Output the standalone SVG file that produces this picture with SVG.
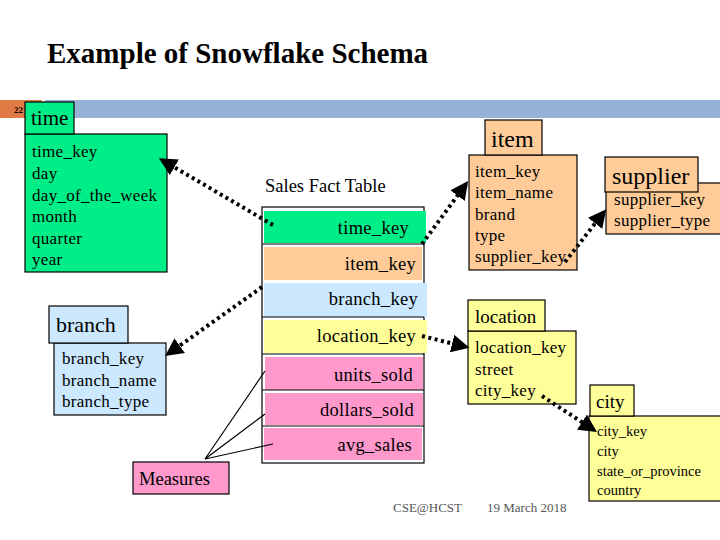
<svg xmlns="http://www.w3.org/2000/svg" width="720" height="540" viewBox="0 0 720 540">
<style>
text{font-family:"Liberation Serif","Times New Roman",serif;fill:#000}
.b{stroke:#000;stroke-width:1.2}
.f{font-size:17px;letter-spacing:0.3px}
.r{text-anchor:end;font-size:18.5px;letter-spacing:0.3px}
.d{fill:none;stroke:#000;stroke-width:4;stroke-dasharray:3 3.5}
.m{stroke:#000;stroke-width:1.2}
.g{fill:#00ee88}.o{fill:#ffcc99}.lb{fill:#cce8ff}.y{fill:#ffff99}.p{fill:#ff99cc}
</style>
<defs><marker id="a" viewBox="0 0 10 10" refX="8" refY="5" markerWidth="4.5" markerHeight="4.5" orient="auto" markerUnits="strokeWidth"><path d="M0,0L10,5L0,10z" fill="#000"/></marker></defs>
<rect width="720" height="540" fill="#fff"/>
<text x="47" y="63" font-size="29" font-weight="bold">Example of Snowflake Schema</text>
<rect x="0" y="100" width="42" height="18" fill="#e07b45"/>
<rect x="45" y="100" width="675" height="18" fill="#95b3d7"/>
<text x="14" y="113" font-size="9" font-weight="bold">22</text>
<g id="time">
<rect x="25" y="134" width="142" height="138" class="g b"/>
<rect x="25" y="102" width="49" height="32" class="g b"/>
<text x="31" y="125" font-size="21">time</text>
<g class="f"><text x="32" y="157">time_key</text><text x="32" y="179">day</text><text x="32" y="201">day_of_the_week</text><text x="32" y="222">month</text><text x="32" y="244">quarter</text><text x="32" y="265">year</text></g>
</g>
<g id="fact">
<text x="265" y="192" font-size="18.5">Sales Fact Table</text>
<rect x="262" y="207" width="162" height="256" fill="#fff" class="b"/>
<rect x="264" y="211" width="162" height="32" class="g"/>
<rect x="264" y="247" width="158" height="33" class="o"/>
<rect x="264" y="283" width="163" height="34" class="lb"/>
<rect x="264" y="320" width="163" height="33" class="y"/>
<rect x="265" y="357" width="158" height="33" class="p"/>
<rect x="265" y="393" width="158" height="32" class="p"/>
<rect x="264" y="428" width="158" height="32" class="p"/>
<g class="m"><line x1="262" y1="244" x2="424" y2="244"/><line x1="262" y1="317" x2="424" y2="317"/><line x1="262" y1="354" x2="424" y2="354"/><line x1="262" y1="390" x2="424" y2="390"/><line x1="262" y1="426" x2="424" y2="426"/></g>
<text x="409" y="234" class="r">time_key</text>
<text x="416" y="270" class="r">item_key</text>
<text x="418" y="305" class="r">branch_key</text>
<text x="416" y="342" class="r">location_key</text>
<text x="413" y="381" class="r">units_sold</text>
<text x="414" y="416" class="r">dollars_sold</text>
<text x="412" y="451" class="r">avg_sales</text>
</g>
<g id="item">
<rect x="469" y="155" width="108" height="115" class="o b"/>
<rect x="485" y="120" width="57" height="35" class="o b"/>
<text x="491" y="147" font-size="24">item</text>
<g class="f"><text x="475" y="177">item_key</text><text x="475" y="198">item_name</text><text x="475" y="220">brand</text><text x="475" y="241">type</text><text x="475" y="262">supplier_key</text></g>
</g>
<g id="supplier">
<rect x="606" y="183" width="116" height="51" class="o b"/>
<rect x="605" y="157" width="93" height="35" class="o b"/>
<text x="612" y="184" font-size="24">supplier</text>
<g class="f"><text x="614" y="205">supplier_key</text><text x="614" y="226">supplier_type</text></g>
</g>
<g id="location">
<rect x="468" y="331" width="108" height="73" class="y b"/>
<rect x="468" y="300" width="77" height="31" class="y b"/>
<text x="475" y="323" font-size="19">location</text>
<g class="f"><text x="475" y="353">location_key</text><text x="475" y="375">street</text><text x="475" y="396">city_key</text></g>
</g>
<g id="city">
<rect x="589" y="416" width="133" height="85" class="y b"/>
<rect x="590" y="385" width="44" height="31" class="y b"/>
<text x="596" y="408" font-size="19">city</text>
<g font-size="14.5"><text x="597" y="436">city_key</text><text x="597" y="456">city</text><text x="597" y="476">state_or_province</text><text x="597" y="495">country</text></g>
</g>
<g id="branch">
<rect x="54" y="343" width="112" height="72" class="lb b"/>
<rect x="49" y="306" width="79" height="37" class="lb b"/>
<text x="56" y="332" font-size="22">branch</text>
<g class="f"><text x="62" y="364">branch_key</text><text x="62" y="386">branch_name</text><text x="62" y="407">branch_type</text></g>
</g>
<g id="measures">
<rect x="133" y="462" width="96" height="32" class="p b"/>
<text x="139" y="485" font-size="18.5">Measures</text>
</g>
<g id="connectors">
<path class="d" d="M273,225L162,160" marker-end="url(#a)"/>
<path class="d" d="M422,244L466,184" marker-end="url(#a)"/>
<path class="d" d="M565,262L604,212" marker-end="url(#a)"/>
<path class="d" d="M262,287L168,354" marker-end="url(#a)"/>
<path class="d" d="M422,336L466,347" marker-end="url(#a)"/>
<path class="d" d="M542,396L594,430" marker-end="url(#a)"/>
<g class="m"><line x1="205" y1="459" x2="265" y2="371"/><line x1="205" y1="459" x2="265" y2="414"/><line x1="205" y1="459" x2="273" y2="444"/></g>
</g>
<g font-size="13"><text x="393" y="512" style="fill:#555">CSE@HCST</text><text x="487" y="512" style="fill:#555">19 March 2018</text></g>
</svg>
